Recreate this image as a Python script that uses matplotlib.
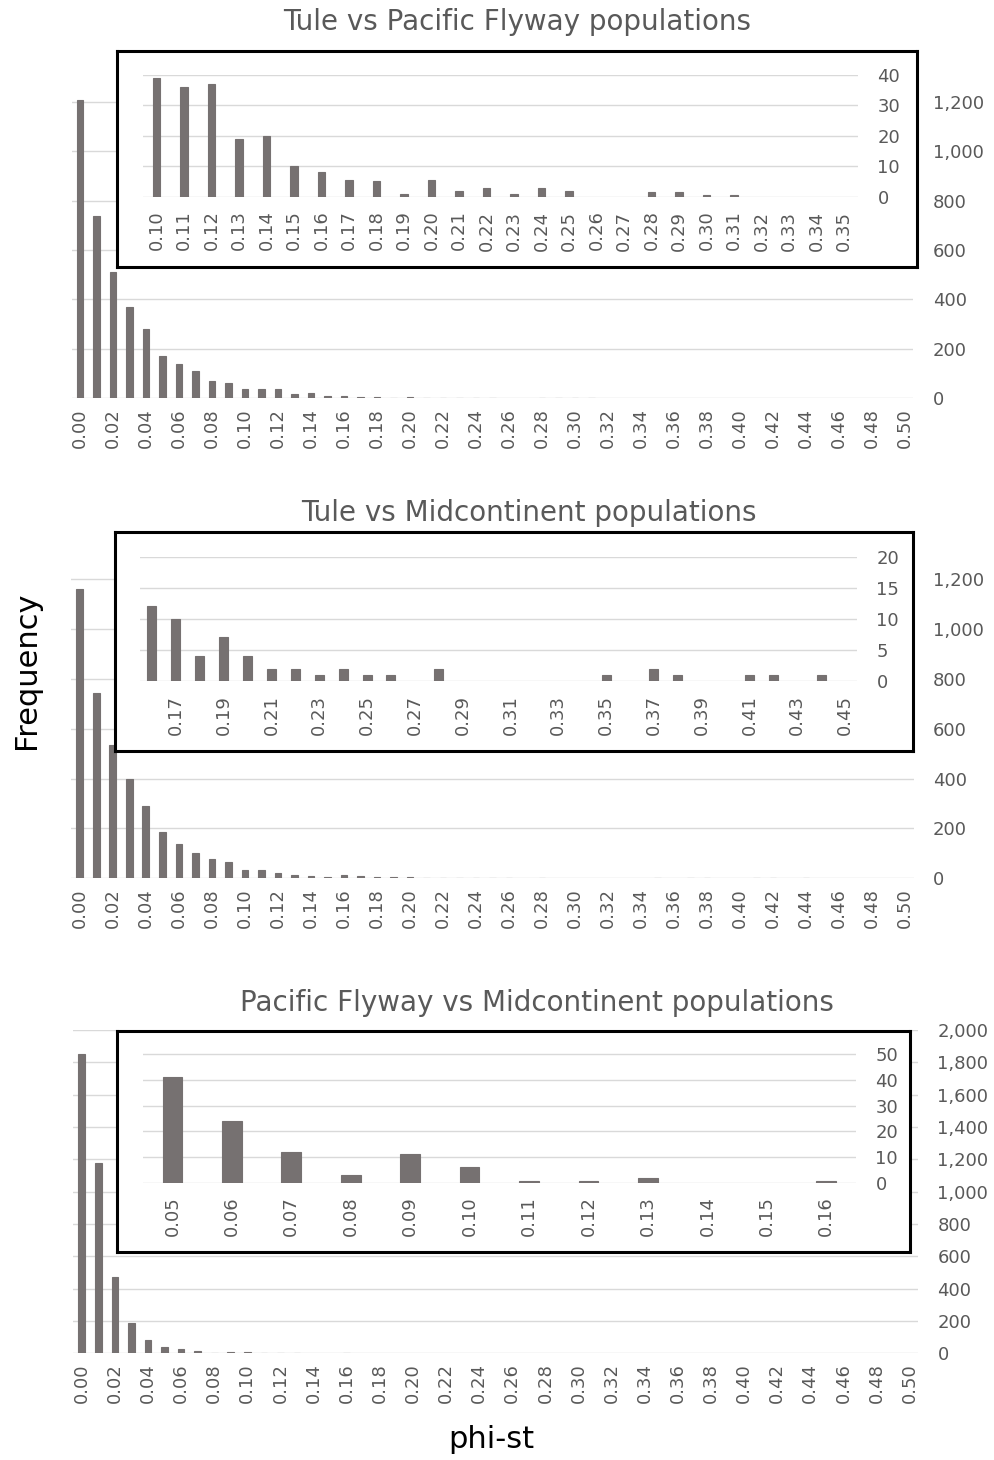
import matplotlib
matplotlib.use("Agg")
import matplotlib.pyplot as plt
from matplotlib.ticker import StrMethodFormatter
import numpy as np

# phi-st bins 0.00 .. 0.50
bins = [f"{v / 100:.2f}" for v in range(51)]

# Tule vs Pacific Flyway
tule_pf = [1208, 737, 510, 370, 279, 172, 139, 112, 71, 61,
           39, 36, 37, 19, 20, 10, 8, 5.5, 5, 1,
           5.5, 2, 3, 1, 3, 2, 0, 0, 1.6, 1.6,
           0.5, 0.5, 0, 0, 0, 0, 0, 0, 0, 0,
           0, 0, 0, 0, 0, 0, 0, 0, 0, 0, 0]
tule_pf_zoom_bins = bins[10:36]
tule_pf_zoom = tule_pf[10:36]

# Tule vs Midcontinent
tule_mc = [1160, 745, 534, 397, 290, 185, 139, 100, 79, 65,
           33, 33, 20, 14, 8, 6, 12, 10, 4, 7,
           4, 2, 2, 1, 2, 1, 1, 0, 2, 0,
           0, 0, 0, 0, 0, 1, 0, 2, 1, 0,
           0, 1, 1, 0, 1, 0, 0, 0, 0, 0, 0]
tule_mc_zoom_bins = bins[16:46]
tule_mc_zoom = tule_mc[16:46]

# Pacific Flyway vs Midcontinent
pf_mc = [1851, 1180, 470, 186, 82, 41, 24, 12, 3, 11,
         6, 0.5, 0.5, 2, 0, 0, 0.5, 0, 0, 0,
         0, 0, 0, 0, 0, 0, 0, 0, 0, 0,
         0, 0, 0, 0, 0, 0, 0, 0, 0, 0,
         0, 0, 0, 0, 0, 0, 0, 0, 0, 0, 0]
pf_mc_zoom_bins = bins[5:17]
pf_mc_zoom = pf_mc[5:17]

titles = ["Tule vs Pacific Flyway populations",
          "Tule vs Midcontinent populations",
          "Pacific Flyway vs Midcontinent populations"]

W, H = 995, 1460
BAR = "#767171"
GRID = "#D9D9D9"
TXT = "#595959"
FS = 13

fig = plt.figure(figsize=(W / 100, H / 100), dpi=100)


def rect(x0, x1, ytop, ybot):
    return [x0 / W, 1 - ybot / H, (x1 - x0) / W, (ybot - ytop) / H]


def bars(ax, labels, vals, width, ylim, yticks, every=1, first=0,
         xpad=7, ypad=14, fmt="{x:,.0f}"):
    x = np.arange(len(vals))
    vals = np.array(vals, dtype=float)
    lw = np.where(vals > 0, 0.8, 0.0)
    ax.bar(x, vals, width=width, color=BAR, edgecolor=BAR, linewidth=lw)
    ax.set_xlim(-0.5, len(vals) - 0.5)
    ax.set_ylim(*ylim)
    ax.set_xticks(x[first::every])
    ax.set_xticklabels(labels[first::every], rotation=90)
    ax.set_yticks(yticks)
    ax.yaxis.set_major_formatter(StrMethodFormatter(fmt))
    ax.yaxis.tick_right()
    ax.tick_params(axis="x", length=0, pad=xpad, labelsize=FS, labelcolor=TXT)
    ax.tick_params(axis="y", length=0, pad=ypad, labelsize=FS, labelcolor=TXT)
    ax.grid(axis="y", color=GRID, linewidth=1.0)
    ax.set_axisbelow(True)
    for s in ax.spines.values():
        s.set_visible(False)
    ax.patch.set_alpha(0)


def frame(x0, x1, ytop, ybot):
    fr = fig.add_axes(rect(x0, x1, ytop, ybot))
    fr.set_xticks([])
    fr.set_yticks([])
    fr.set_facecolor("white")
    for s in fr.spines.values():
        s.set_linewidth(2.2)
        s.set_color("black")


# panel 1
ax1 = fig.add_axes(rect(71.75, 913.25, 52.3, 398.3))
bars(ax1, bins, tule_pf, 0.4, (0, 1400), range(0, 1201, 200), every=2)
frame(117, 917, 51, 267)
in1 = fig.add_axes(rect(142.7, 858, 75, 196.7))
bars(in1, tule_pf_zoom_bins, tule_pf_zoom, 0.27, (0, 40), range(0, 41, 10), xpad=10)

# panel 2
ax2 = fig.add_axes(rect(71.5, 913.5, 529.5, 878.3))
bars(ax2, bins, tule_mc, 0.4, (0, 1400), range(0, 1201, 200), every=2)
frame(115, 913, 532, 751)
in2 = fig.add_axes(rect(140, 857, 556.7, 681))
bars(in2, tule_mc_zoom_bins, tule_mc_zoom, 0.38, (0, 20), range(0, 21, 5),
     every=2, first=1, xpad=10)

# panel 3
ax3 = fig.add_axes(rect(73.5, 918, 1030, 1353.3))
bars(ax3, bins, pf_mc, 0.4, (0, 2000), range(0, 2001, 200), every=2)
frame(117, 910, 1031, 1252)
in3 = fig.add_axes(rect(142.7, 856, 1041.3, 1182.7))
bars(in3, pf_mc_zoom_bins, pf_mc_zoom, 0.33, (0, 55), range(0, 51, 10), xpad=10)

# titles and axis labels
for t, (cx, by) in zip(titles, [(517, 30), (529, 521), (537, 1011)]):
    fig.text(cx / W, 1 - by / H, t, ha="center", va="baseline",
             fontsize=20, color=TXT)
fig.text(27 / W, 1 - 670 / H, "Frequency", rotation=90, ha="center",
         va="center", fontsize=22, color="black")
fig.text(491 / W, 1 - 1448 / H, "phi-st", ha="center", va="baseline",
         fontsize=22, color="black")

fig.savefig("out.png", dpi=100)
